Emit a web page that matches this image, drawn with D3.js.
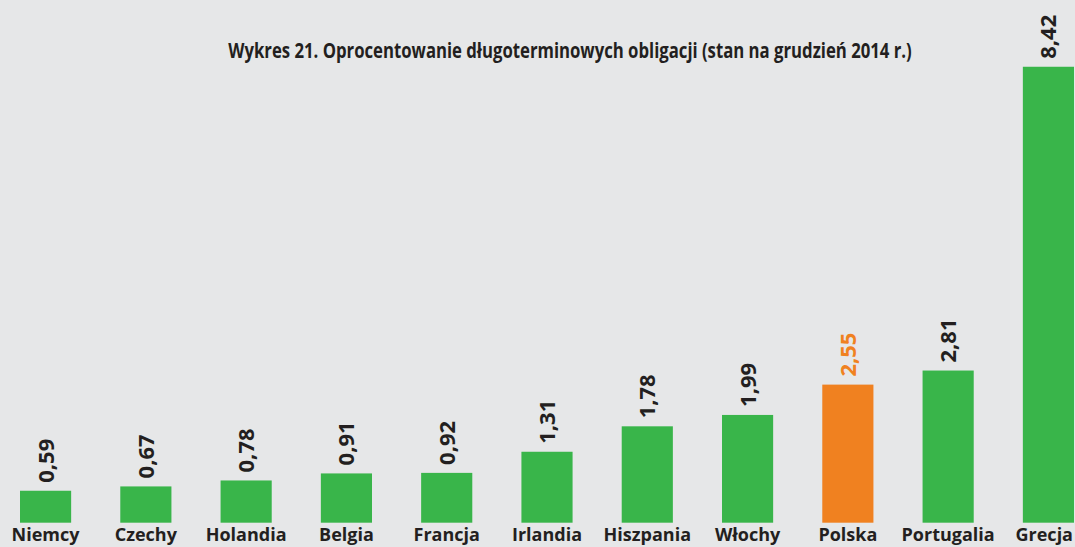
<!DOCTYPE html>
<html><head><meta charset="utf-8">
<script src="https://cdn.jsdelivr.net/npm/d3@7"></script>
<style>html,body{margin:0;padding:0;background:#e6e7e8;overflow:hidden}</style>
</head><body>
<svg id="c" width="1075" height="547"></svg>
<script>
const title = "Wykres 21. Oprocentowanie długoterminowych obligacji (stan na grudzień 2014 r.)";
const categories = ["Niemcy","Czechy","Holandia","Belgia","Francja","Irlandia","Hiszpania","Włochy","Polska","Portugalia","Grecja"];
const values = [0.59,0.67,0.78,0.91,0.92,1.31,1.78,1.99,2.55,2.81,8.42];
const labels = ["0,59","0,67","0,78","0,91","0,92","1,31","1,78","1,99","2,55","2,81","8,42"];
const highlight = "Polska";

const W = 1075, H = 547;
const svg = d3.select("#c");
svg.append("rect").attr("width", W).attr("height", H).attr("fill", "#e6e7e8");

const x = d3.scaleBand().domain(categories).range([20, 1074]).paddingInner(0.49).paddingOuter(0);
const y = d3.scaleLinear().domain([0, 9]).range([522.7, 35.35]);
const data = categories.map((c, i) => ({c, v: values[i], l: labels[i]}));
const col = d => d.c === highlight ? "#f08120" : "#39b54a";

const tg = svg.append("g");
const tt = tg.append("text").attr("x", 0).attr("y", 0).attr("text-anchor", "middle")
  .attr("font-family", "'Open Sans',sans-serif").attr("font-weight", "bold")
  .attr("font-size", 22).attr("fill", "#231f20").text(title);
const natW = tt.node().getComputedTextLength();
tg.attr("transform", `translate(570,58) scale(${684 / natW},1)`);

svg.selectAll("rect.bar").data(data).join("rect").attr("class", "bar")
  .attr("x", d => x(d.c)).attr("width", x.bandwidth())
  .attr("y", d => y(d.v)).attr("height", d => y(0) - y(d.v)).attr("fill", col);

svg.selectAll("text.val").data(data).join("text").attr("class", "val")
  .attr("transform", d => `translate(${x(d.c) + x.bandwidth() / 2 + 8},${y(d.v) - 8}) rotate(-90)`)
  .attr("text-anchor", "start").attr("font-family", "'Open Sans',sans-serif").attr("font-weight", "bold")
  .attr("font-size", 22).attr("fill", d => d.c === highlight ? "#f08120" : "#231f20").text(d => d.l);

svg.selectAll("text.cat").data(data).join("text").attr("class", "cat")
  .attr("x", d => x(d.c) + x.bandwidth() / 2).attr("y", 541).attr("text-anchor", "middle")
  .attr("font-family", "'Open Sans',sans-serif").attr("font-weight", "bold")
  .attr("font-size", 18).attr("fill", "#231f20").text(d => d.c)
  .each(function(d) {
    const w = this.getComputedTextLength();
    const cx = x(d.c) + x.bandwidth() / 2;
    const maxCx = W - 2 - w / 2;
    if (cx > maxCx) d3.select(this).attr("x", maxCx);
  });
</script>
</body></html>
